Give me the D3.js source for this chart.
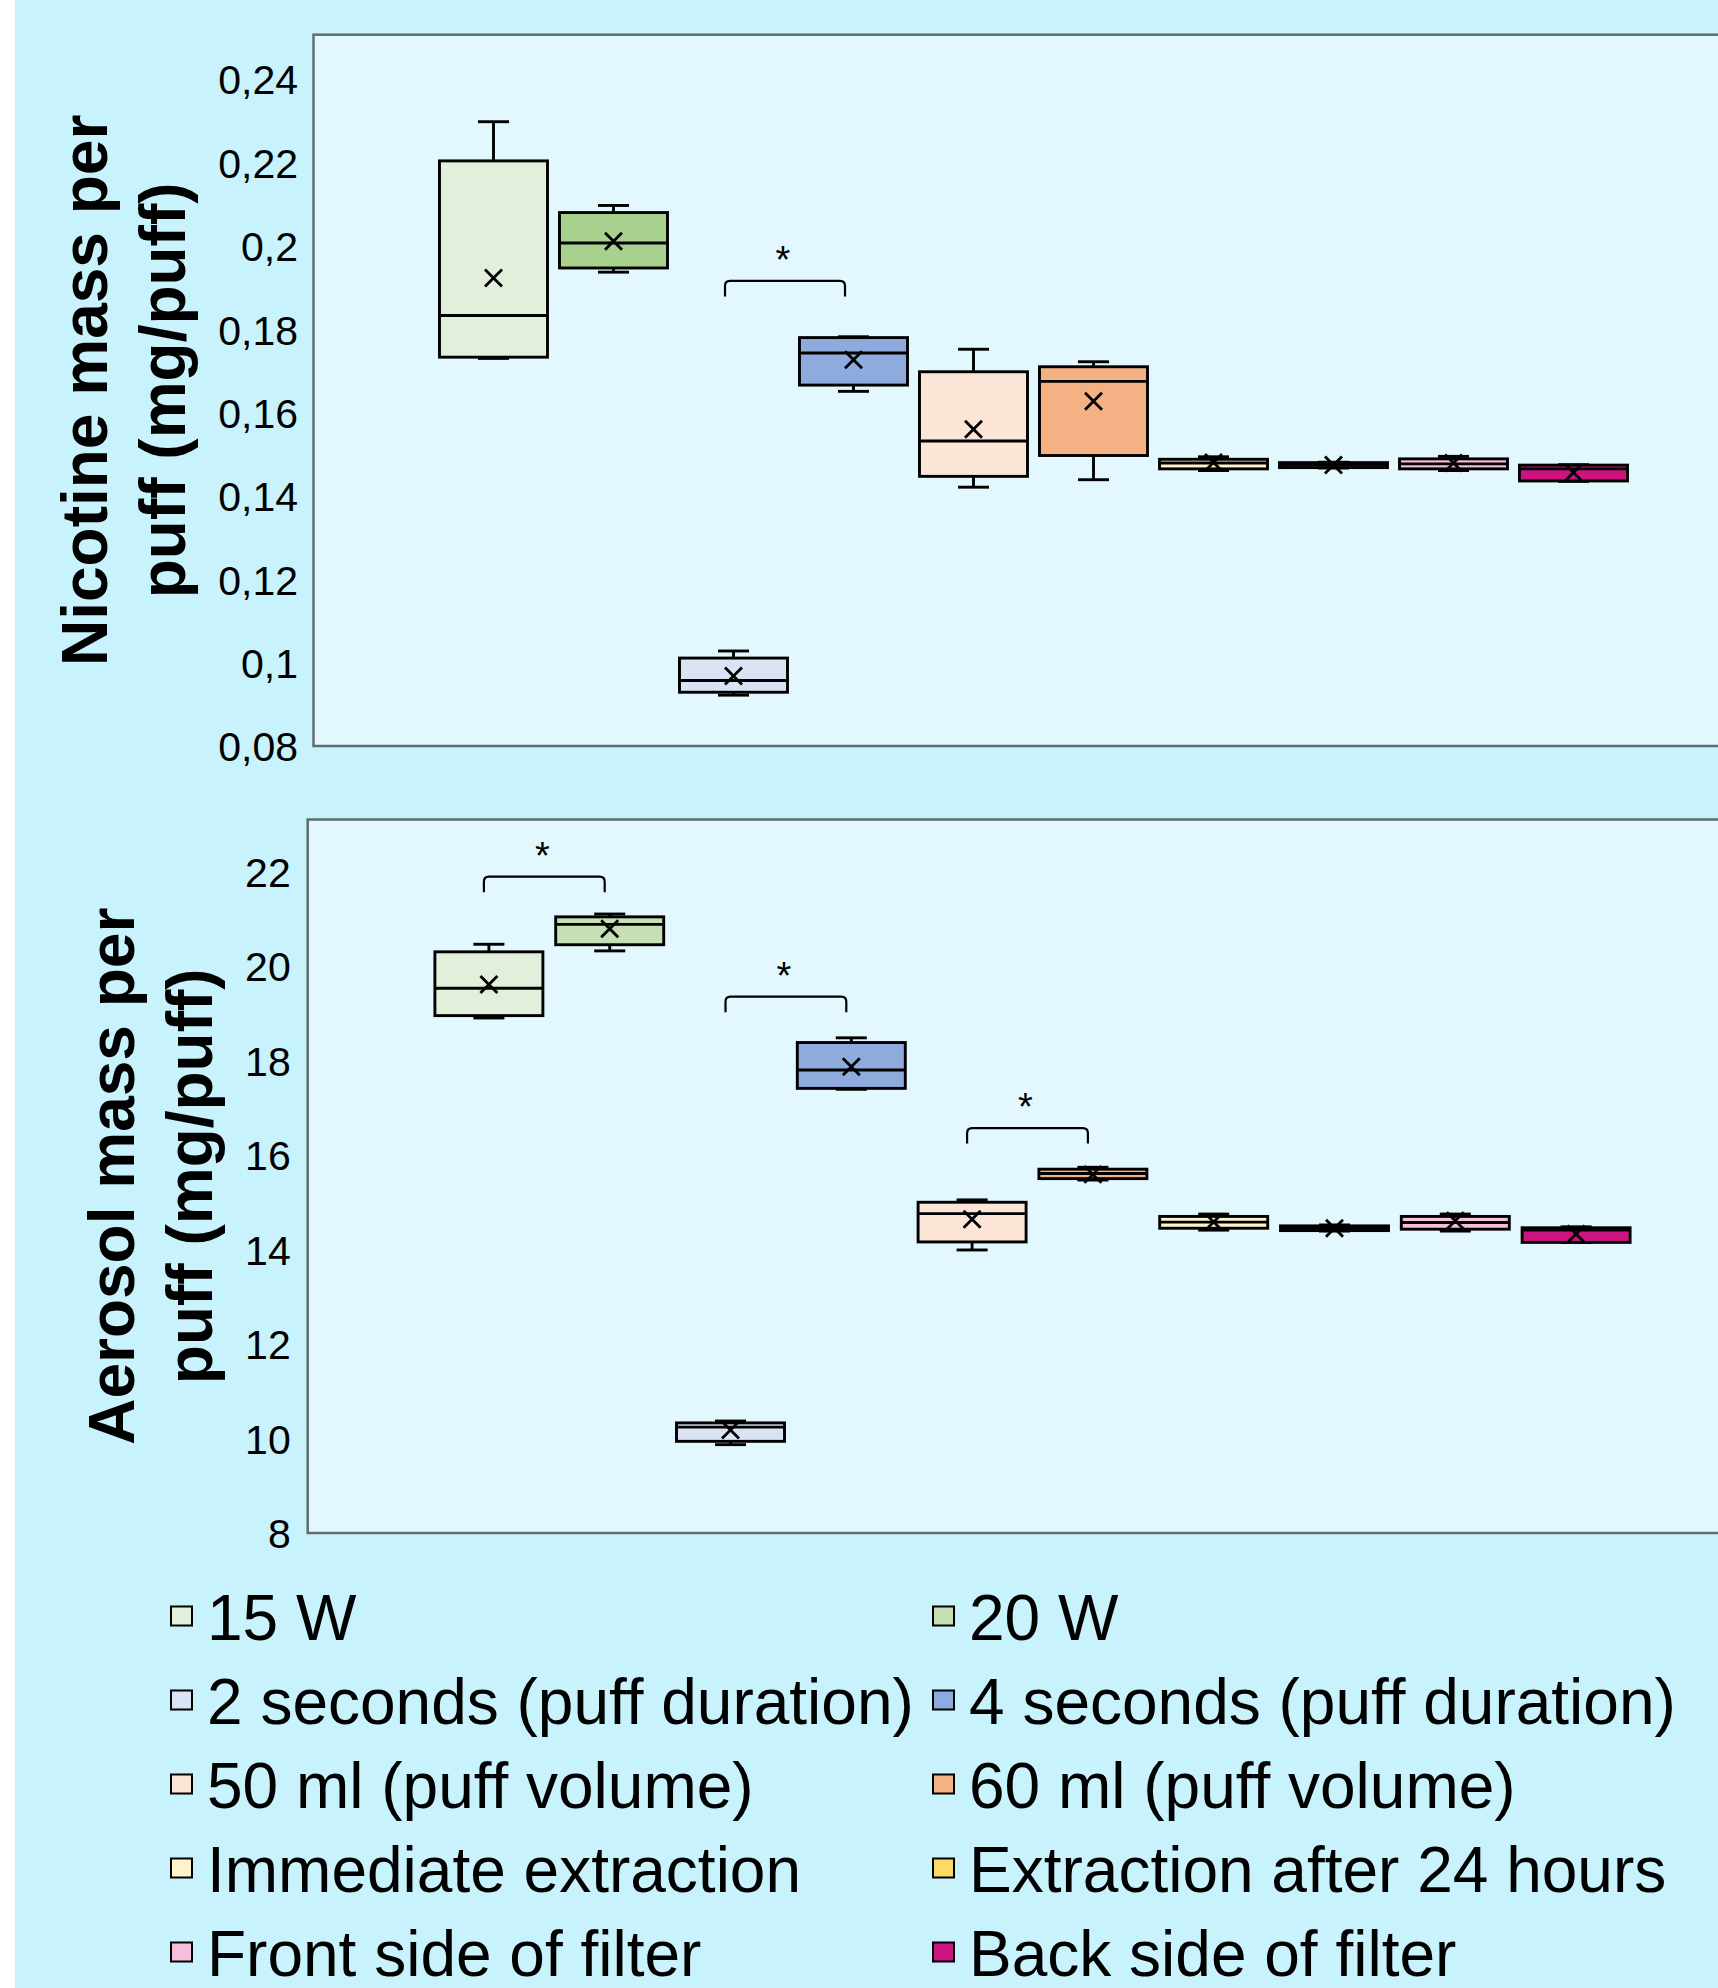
<!DOCTYPE html>
<html>
<head>
<meta charset="utf-8">
<script src="https://cdn.jsdelivr.net/npm/d3@7"></script>
<style>
  body { margin: 0; background: #c8f2fc; }
  svg { display: block; }
</style>
</head>
<body>
<svg id="chart" width="1718" height="1988"></svg>
<script>
// categories (legend order = box order)
const CATEGORIES = [
  '15 W', '20 W',
  '2 seconds (puff duration)', '4 seconds (puff duration)',
  '50 ml (puff volume)', '60 ml (puff volume)',
  'Immediate extraction', 'Extraction after 24 hours',
  'Front side of filter', 'Back side of filter'
]

// nicotine mass per puff (mg/puff) - box stats
const NIC_WMIN = [0.1730, 0.1937, 0.0922, 0.1651, 0.1421, 0.1439, 0.1461, 0.1467, 0.1461, 0.1435]
const NIC_Q1   = [0.1733, 0.1947, 0.0929, 0.1666, 0.1447, 0.1497, 0.1465, 0.1468, 0.1465, 0.1436]
const NIC_MED  = [0.1833, 0.2007, 0.0957, 0.1743, 0.1532, 0.1675, 0.1479, 0.1474, 0.1477, 0.1465]
const NIC_Q3   = [0.2204, 0.2080, 0.1011, 0.1780, 0.1698, 0.1710, 0.1488, 0.1480, 0.1489, 0.1474]
const NIC_WMAX = [0.2298, 0.2097, 0.1028, 0.1782, 0.1752, 0.1722, 0.1494, 0.1481, 0.1495, 0.1475]
const NIC_MEAN = [0.1923, 0.2011, 0.0968, 0.1727, 0.1560, 0.1627, 0.1480, 0.1474, 0.1479, 0.1456]
const NIC_TICKS = [0.08, 0.10, 0.12, 0.14, 0.16, 0.18, 0.20, 0.22, 0.24]
// significance brackets: [from box, to box, height]
const NIC_SIG = [[2, 3, 0.1916]]

// aerosol mass per puff (mg/puff)
const AER_WMIN = [18.90, 20.32, 9.87, 17.39, 13.99, 15.47, 14.41, 14.39, 14.39, 14.15]
const AER_Q1   = [18.95, 20.45, 9.94, 17.41, 14.16, 15.50, 14.45, 14.40, 14.43, 14.15]
const AER_MED  = [19.53, 20.88, 10.24, 17.80, 14.76, 15.61, 14.58, 14.45, 14.57, 14.41]
const AER_Q3   = [20.30, 21.04, 10.33, 18.38, 15.00, 15.70, 14.70, 14.50, 14.70, 14.46]
const AER_WMAX = [20.46, 21.10, 10.37, 18.48, 15.05, 15.74, 14.75, 14.52, 14.75, 14.48]
const AER_MEAN = [19.61, 20.79, 10.18, 17.87, 14.64, 15.59, 14.58, 14.45, 14.61, 14.33]
const AER_TICKS = [8, 10, 12, 14, 16, 18, 20, 22]
const AER_SIG = [[0, 1, 21.89], [2, 3, 19.35], [4, 5, 16.57]]

// fills
const FILLS = ['#e2efda', '#c5e0b4', '#dae3f3', '#8faadc', '#fbe5d6',
               '#f4b183', '#fff2cc', '#ffd966', '#f6bfd9', '#cc1480']
const NIC_FILLS = FILLS.map((c, i) => i === 1 ? '#a9d18e' : c)
const AER_FILLS = FILLS.map((c, i) => i === 7 ? '#7a6126' : c)

const svg = d3.select('#chart')
const FONT = '"Liberation Sans", Arial, sans-serif'

// white strip on the left edge
svg.append('rect').attr('x', 0).attr('y', 0).attr('width', 15).attr('height', 1988).attr('fill', '#ffffff')

function toStats(wmin, q1, med, q3, wmax, mean) {
  return CATEGORIES.map((c, i) => ({
    cat: c, i: i, wmin: wmin[i], q1: q1[i], med: med[i], q3: q3[i], wmax: wmax[i], mean: mean[i]
  }))
}

function drawPanel(cfg) {
  const step = cfg.step
  // one empty slot each side of the ten boxes
  const x = d3.scaleBand()
    .domain(CATEGORIES)
    .range([cfg.left + step, cfg.left + 11 * step])
  const y = d3.scaleLinear()
    .domain([cfg.ticks[0], cfg.ticks[cfg.ticks.length - 1]])
    .range([cfg.bottom, cfg.topTickY])
  const cx = d => x(d.cat) + x.bandwidth() / 2
  const boxW = 108, capW = 31, sw = 2.9

  const g = svg.append('g')

  g.append('rect')
    .attr('x', cfg.left).attr('y', cfg.top)
    .attr('width', 12 * step + 20).attr('height', cfg.bottom - cfg.top)
    .attr('fill', '#e3f8fe')
    .attr('stroke', '#5f6d72').attr('stroke-width', 2.5)

  // tick labels with decimal comma, no tick marks
  const yAxis = d3.axisLeft(y)
    .tickValues(cfg.ticks)
    .tickSize(0)
    .tickPadding(0)
    .tickFormat(d => d3.format('~g')(d).replace('.', ','))
  const ax = g.append('g')
    .attr('transform', `translate(${cfg.left - cfg.labelGap},0)`)
    .call(yAxis)
  ax.select('.domain').remove()
  ax.selectAll('text')
    .attr('font-family', FONT).attr('font-size', 41)
    .attr('fill', '#000').attr('dy', '0.36em')

  const data = cfg.stats
  const boxes = g.selectAll('g.box').data(data).enter().append('g').attr('class', 'box')

  boxes.append('line')
    .attr('x1', cx).attr('x2', cx)
    .attr('y1', d => y(d.wmax)).attr('y2', d => y(d.q3))
    .attr('stroke', '#000').attr('stroke-width', sw)
  boxes.append('line')
    .attr('x1', cx).attr('x2', cx)
    .attr('y1', d => y(d.q1)).attr('y2', d => y(d.wmin))
    .attr('stroke', '#000').attr('stroke-width', sw)
  boxes.append('line')
    .attr('x1', d => cx(d) - capW / 2).attr('x2', d => cx(d) + capW / 2)
    .attr('y1', d => y(d.wmax)).attr('y2', d => y(d.wmax))
    .attr('stroke', '#000').attr('stroke-width', sw)
  boxes.append('line')
    .attr('x1', d => cx(d) - capW / 2).attr('x2', d => cx(d) + capW / 2)
    .attr('y1', d => y(d.wmin)).attr('y2', d => y(d.wmin))
    .attr('stroke', '#000').attr('stroke-width', sw)

  boxes.append('rect')
    .attr('x', d => cx(d) - boxW / 2)
    .attr('y', d => y(d.q3))
    .attr('width', boxW)
    .attr('height', d => y(d.q1) - y(d.q3))
    .attr('fill', d => cfg.fills[d.i])
    .attr('stroke', '#000').attr('stroke-width', sw)

  boxes.append('line')
    .attr('x1', d => cx(d) - boxW / 2).attr('x2', d => cx(d) + boxW / 2)
    .attr('y1', d => y(d.med)).attr('y2', d => y(d.med))
    .attr('stroke', '#000').attr('stroke-width', sw)

  // mean marker (x)
  const m = 8.5
  boxes.append('path')
    .attr('d', d => {
      const px = cx(d), py = y(d.mean)
      return `M${px - m},${py - m}L${px + m},${py + m}M${px - m},${py + m}L${px + m},${py - m}`
    })
    .attr('stroke', '#000').attr('stroke-width', 2.8).attr('fill', 'none')

  // significance brackets
  cfg.sig.forEach(s => {
    const x1 = x(CATEGORIES[s[0]]) + x.bandwidth() / 2 - cfg.sigShift
    const x2 = x(CATEGORIES[s[1]]) + x.bandwidth() / 2 - cfg.sigShift
    const yy = y(s[2]), h = 15.5, r = 5
    g.append('path')
      .attr('d', `M${x1},${yy + h}L${x1},${yy + r}Q${x1},${yy} ${x1 + r},${yy}L${x2 - r},${yy}Q${x2},${yy} ${x2},${yy + r}L${x2},${yy + h}`)
      .attr('fill', 'none').attr('stroke', '#000').attr('stroke-width', 2.2)
    g.append('text')
      .attr('x', (x1 + x2) / 2 - 2).attr('y', yy - 8)
      .attr('text-anchor', 'middle')
      .attr('font-family', FONT).attr('font-size', 38)
      .text('*')
  })

  // y title, two lines
  const midY = (cfg.top + cfg.bottom) / 2
  cfg.title.forEach((t, k) => {
    g.append('text')
      .attr('transform', `translate(${cfg.titleX + k * 77.5},${midY}) rotate(-90)`)
      .attr('text-anchor', 'middle')
      .attr('font-family', FONT).attr('font-weight', 'bold').attr('font-size', 64)
      .text(t)
  })
}

drawPanel({
  stats: toStats(NIC_WMIN, NIC_Q1, NIC_MED, NIC_Q3, NIC_WMAX, NIC_MEAN),
  ticks: NIC_TICKS, sig: NIC_SIG, fills: NIC_FILLS,
  left: 313.5, top: 34.7, bottom: 746, topTickY: 79.2, step: 120,
  labelGap: 15.5, sigShift: 8.5, titleX: 107,
  title: ['Nicotine mass per', 'puff (mg/puff)']
})

drawPanel({
  stats: toStats(AER_WMIN, AER_Q1, AER_MED, AER_Q3, AER_WMAX, AER_MEAN),
  ticks: AER_TICKS, sig: AER_SIG, fills: AER_FILLS,
  left: 307.7, top: 819.5, bottom: 1533, topTickY: 871.5, step: 120.8,
  labelGap: 17, sigShift: 5, titleX: 134.4,
  title: ['Aerosol mass per', 'puff (mg/puff)']
})

// legend, two columns
const legend = svg.append('g')
CATEGORIES.forEach((c, i) => {
  const col = i % 2, row = Math.floor(i / 2)
  const sx = col === 0 ? 171 : 933
  const base = 1640 + row * 84
  legend.append('rect')
    .attr('x', sx).attr('y', base - 33.5)
    .attr('width', 21).attr('height', 19)
    .attr('fill', FILLS[i]).attr('stroke', '#000').attr('stroke-width', 2)
  legend.append('text')
    .attr('x', sx + 36).attr('y', base)
    .attr('font-family', FONT).attr('font-size', 64)
    .text(c)
})
</script>
</body>
</html>
